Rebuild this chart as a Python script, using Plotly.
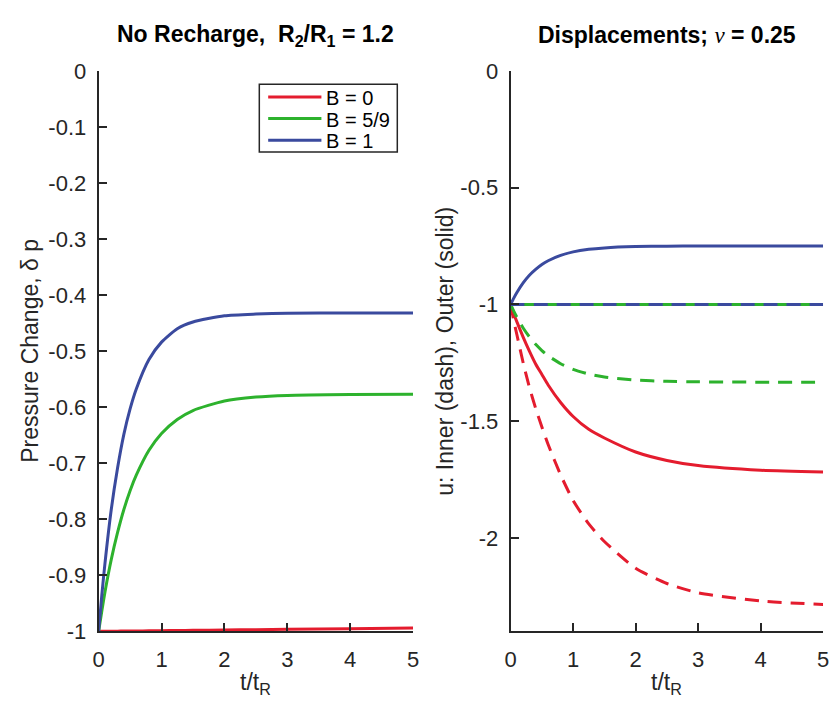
import plotly.graph_objects as go

# Time axis (t / t_R)
t = [0, 0.05, 0.1, 0.2, 0.3, 0.4, 0.5, 0.6, 0.8, 1.0, 1.25, 1.5, 2.0, 2.5, 3.0, 4.0, 5.0]

# Pressure change, delta p, for each Skempton coefficient B
p_B0 = [-1.0, -0.99994, -0.99988, -0.99976, -0.99964, -0.99952, -0.9994, -0.99928,
        -0.99904, -0.9988, -0.9985, -0.9982, -0.9976, -0.997, -0.9964, -0.9952, -0.994]
p_B59 = [-1.0, -0.964, -0.930, -0.872, -0.824, -0.783, -0.749, -0.721, -0.677,
         -0.647, -0.622, -0.606, -0.589, -0.582, -0.579, -0.5775, -0.577]
p_B1 = [-1.0, -0.936, -0.879, -0.783, -0.709, -0.649, -0.603, -0.567, -0.515,
        -0.484, -0.460, -0.448, -0.437, -0.434, -0.4325, -0.432, -0.432]

# Displacements u: inner (dashed) and outer (solid) boundaries
u_out_B0 = [-1.0, -1.04, -1.075, -1.14, -1.20, -1.255, -1.30, -1.345, -1.42,
            -1.48, -1.535, -1.572, -1.632, -1.668, -1.69, -1.71, -1.718]
u_in_B0 = [-1.0, -1.07, -1.13, -1.25, -1.355, -1.445, -1.525, -1.60, -1.73,
           -1.84, -1.94, -2.015, -2.13, -2.195, -2.235, -2.27, -2.285]
u_out_B59 = [-1.0] * len(t)
u_in_B59 = [-1.0, -1.029, -1.055, -1.101, -1.139, -1.171, -1.1975, -1.220, -1.254,
            -1.278, -1.298, -1.311, -1.324, -1.3293, -1.3315, -1.3329, -1.333]
u_out_B1 = [-1.0, -0.973, -0.949, -0.908, -0.875, -0.850, -0.829, -0.813, -0.790,
            -0.775, -0.764, -0.758, -0.7525, -0.7508, -0.7503, -0.750, -0.750]
u_in_B1 = [-1.0] * len(t)

labels = ["B = 0", "B = 5/9", "B = 1"]
colors = ["#E41C2E", "#2DB22D", "#3A4A9E"]

x_ticks = [0, 1, 2, 3, 4, 5]
x_ticktext = ["0", "1", "2", "3", "4", "5"]
yl_ticks = [0, -0.1, -0.2, -0.3, -0.4, -0.5, -0.6, -0.7, -0.8, -0.9, -1]
yl_ticktext = ["0", "-0.1", "-0.2", "-0.3", "-0.4", "-0.5", "-0.6", "-0.7", "-0.8", "-0.9", "-1"]
yr_ticks = [0, -0.5, -1, -1.5, -2]
yr_ticktext = ["0", "-0.5", "-1", "-1.5", "-2"]

W, H = 836, 709
FONT = "Liberation Sans, Arial, Helvetica, sans-serif"
AXC = "#262626"
LW = 3
DASH = "14px,9px"

# pixel frame of the two panels
L1, R1 = 94, 413
L2, R2 = 512, 829
TOP, BOT = 61, 642


def px(x):
    return x / W


def py(y):
    return (H - y) / H


fig = go.Figure()

# Left panel: pressure change
for y, name, c in zip([p_B0, p_B59, p_B1], labels, colors):
    fig.add_trace(go.Scatter(x=t, y=y, name=name, mode="lines", showlegend=False,
                             line=dict(color=c, width=LW, shape="spline", smoothing=0.6),
                             xaxis="x", yaxis="y"))

# Right panel: outer (solid) then inner (dashed) per B
pairs = [(u_out_B0, u_in_B0), (u_out_B59, u_in_B59), (u_out_B1, u_in_B1)]
for (uo, ui), c in zip(pairs, colors):
    fig.add_trace(go.Scatter(x=t, y=uo, mode="lines", showlegend=False,
                             line=dict(color=c, width=LW, shape="spline", smoothing=0.6),
                             xaxis="x2", yaxis="y2"))
    fig.add_trace(go.Scatter(x=t, y=ui, mode="lines", showlegend=False,
                             line=dict(color=c, width=LW, dash=DASH, shape="spline", smoothing=0.6),
                             xaxis="x2", yaxis="y2"))

axis_common = dict(showgrid=False, zeroline=False, showline=True, linecolor=AXC,
                   linewidth=2, ticks="inside", ticklen=8, tickwidth=2, tickcolor=AXC,
                   tickfont=dict(family=FONT, size=22, color=AXC), mirror=False)
xstyle = dict(axis_common, ticklabelstandoff=7)
ystyle = dict(axis_common, ticklabelstandoff=6)

ydom = [py(BOT), py(TOP)]
fig.update_layout(
    width=W, height=H, margin=dict(l=0, r=0, t=0, b=0),
    plot_bgcolor="white", paper_bgcolor="white", showlegend=False,
    xaxis=dict(domain=[px(L1), px(R1)], range=[0, 5], tickvals=x_ticks,
               ticktext=x_ticktext, anchor="y", **xstyle),
    yaxis=dict(domain=ydom, range=[-1, 0], tickvals=yl_ticks, ticktext=yl_ticktext,
               anchor="x", **ystyle),
    xaxis2=dict(domain=[px(L2), px(R2)], range=[0, 5], tickvals=x_ticks,
                ticktext=x_ticktext, anchor="y2", **xstyle),
    yaxis2=dict(domain=ydom, range=[-2.4, 0], tickvals=yr_ticks, ticktext=yr_ticktext,
                anchor="x2", **ystyle),
)

# Legend box for the left panel
LG_L, LG_R, LG_T, LG_B = 257, 397, 75, 145
ROW0, ROW_DY = 88, 22.5
fig.add_shape(type="rect", xref="paper", yref="paper",
              x0=px(LG_L), x1=px(LG_R), y0=py(LG_B), y1=py(LG_T),
              line=dict(color=AXC, width=1.5), fillcolor="white", layer="above")
for i, (name, c) in enumerate(zip(labels, colors)):
    yy = ROW0 + i * ROW_DY
    fig.add_shape(type="line", xref="paper", yref="paper",
                  x0=px(266), x1=px(320), y0=py(yy), y1=py(yy),
                  line=dict(color=c, width=LW), layer="above")
    fig.add_annotation(xref="paper", yref="paper", x=px(323), y=py(yy + 1),
                       text=name, showarrow=False, xanchor="left", yanchor="middle",
                       font=dict(family=FONT, size=20, color="black"))

TITLE_Y = 24
ann = [
    dict(text="<b>No Recharge,  R<sub>2</sub>/R<sub>1</sub> = 1.2</b>",
         x=px((L1 + R1) / 2), y=py(TITLE_Y), size=23, color="black"),
    dict(text="<b>Displacements; </b><span style=\"font-family:'Liberation Serif', serif\"><i>\u03bd</i></span><b> = 0.25</b>",
         x=px((L2 + R2) / 2), y=py(TITLE_Y), size=23, color="black"),
    dict(text="t/t<sub>R</sub>", x=px((L1 + R1) / 2), y=py(696), size=23, color=AXC),
    dict(text="t/t<sub>R</sub>", x=px((L2 + R2) / 2), y=py(696), size=23, color=AXC),
    dict(text="Pressure Change, \u03b4 p", x=px(24), y=py((TOP + BOT) / 2), size=23,
         color=AXC, textangle=-90),
    dict(text="u: Inner (dash), Outer (solid)", x=px(446), y=py((TOP + BOT) / 2), size=23,
         color=AXC, textangle=-90),
]
for a in ann:
    size = a.pop("size")
    color = a.pop("color")
    fig.add_annotation(xref="paper", yref="paper", showarrow=False,
                       xanchor="center", yanchor="middle",
                       font=dict(family=FONT, size=size, color=color), **a)

fig.write_html("out.html")
